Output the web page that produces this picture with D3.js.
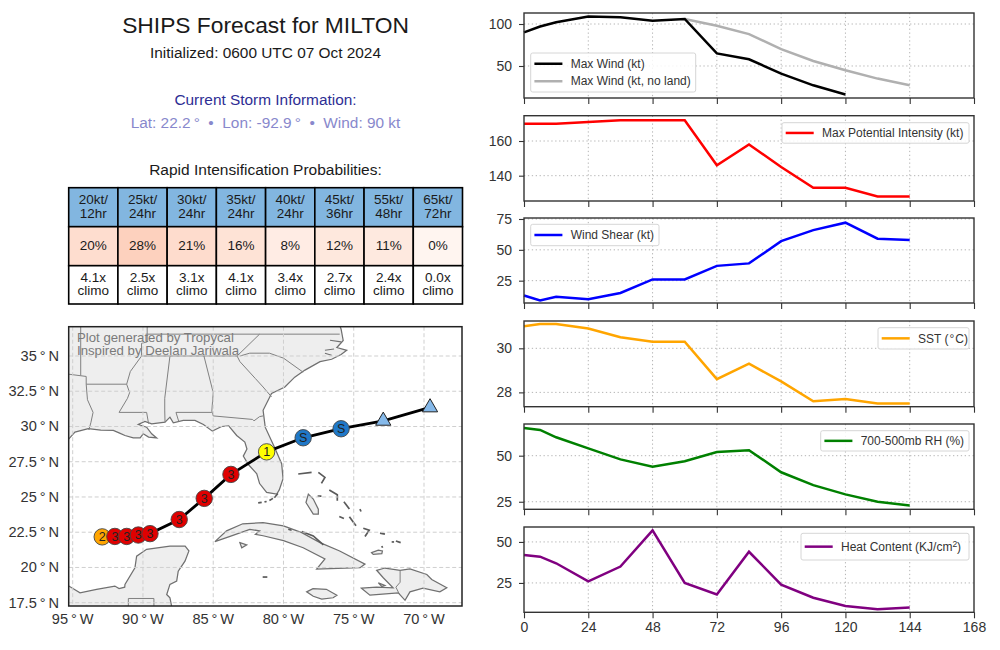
<!DOCTYPE html>
<html><head><meta charset="utf-8">
<script src="https://cdn.jsdelivr.net/npm/d3@7"></script>
<style>
html,body{margin:0;padding:0;background:#fff}
svg{display:block}
text{font-family:"Liberation Sans",Arimo,sans-serif}
</style></head><body>
<svg id="c" width="1000" height="650"></svg>
<script>
// ---------- data ----------
const hours = [0,6,12,24,36,48,60,72,84,96,108,120,132,144];
const hourTicks = [0,24,48,72,96,120,144,168];
const maxWind = [90,97,102,109,108,104,106,65,58,41,27,16,null,null];
const maxWindNoLand = [null,null,null,null,null,null,106,98,88,70,56,45,35,27];
const mpi = [170,170,170,171,172,172,172,146,158,145,133,133,128,128];
const shear = [13,9,12,10,15,26,26,37,39,57,66,72,59,58];
const sst = [31,31.1,31.1,30.9,30.5,30.3,30.3,28.6,29.3,28.5,27.6,27.7,27.5,27.5];
const rh = [65,64,60,54,48,44,47,52,53,41,34,29,25,23];
const ohc = [42,41,37,26,35,57,25,18,44,24,16,11,9,10];

const riHeaders = [["20kt/","12hr"],["25kt/","24hr"],["30kt/","24hr"],["35kt/","24hr"],["40kt/","24hr"],["45kt/","36hr"],["55kt/","48hr"],["65kt/","72hr"]];
const riProb = [20,28,21,16,8,12,11,0];
const riClimo = ["4.1x","2.5x","3.1x","4.1x","3.4x","2.7x","2.4x","0.0x"];

const trackLon = [-92.9,-92.0,-91.16,-90.33,-89.5,-87.42,-85.64,-83.74,-81.2,-78.6,-75.9,-72.9,-69.57];
const trackLat = [22.17,22.2,22.2,22.3,22.4,23.4,24.9,26.6,28.2,29.2,29.84,30.4,31.35];
const trackCat = ["2","3","3","3","3","3","3","3","1","S","S","T","T"];

const lonTicks = [-95,-90,-85,-80,-75,-70];
const latTicks = [17.5,20,22.5,25,27.5,30,32.5,35];
const lonLabels = ["95\u2009°\u2009W","90\u2009°\u2009W","85\u2009°\u2009W","80\u2009°\u2009W","75\u2009°\u2009W","70\u2009°\u2009W"];
const latLabels = ["17.5\u2009°\u2009N","20\u2009°\u2009N","22.5\u2009°\u2009N","25\u2009°\u2009N","27.5\u2009°\u2009N","30\u2009°\u2009N","32.5\u2009°\u2009N","35\u2009°\u2009N"];

// land outlines [lon, lat]
const usa = [[-97,28],[-95.27,29.12],[-94.84,29.6],[-93.89,29.84],[-93,29.75],[-92.11,29.72],[-91.7,29.55],[-91.28,29.36],[-90.69,29.19],[-90.2,29.2],[-89.98,29.48],[-89.6,29.25],[-89.03,29.19],[-89.38,29.48],[-89.74,29.95],[-90.33,30.14],[-89.86,30.36],[-89.38,30.19],[-88.43,30.31],[-88.08,30.66],[-87.84,30.26],[-87.13,30.43],[-86.3,30.43],[-85.7,30.14],[-85.06,29.67],[-84.4,30],[-83.9,30.05],[-83.33,29.36],[-82.75,28.9],[-82.6,28.4],[-82.86,27.9],[-82.5,27.3],[-81.9,26.65],[-81.7,25.95],[-81.2,25.32],[-80.48,25.2],[-80.3,25.5],[-80.03,26.3],[-80.13,27.36],[-80.6,28.43],[-81.3,29.95],[-81.45,31.15],[-80.85,32.35],[-79.9,32.8],[-79.2,33.5],[-78.47,34],[-77.4,34.6],[-76.57,34.77],[-75.9,35.1],[-75.5,35.4],[-76.2,35.6],[-75.75,36.1],[-75.9,36.9],[-76.1,37.5],[-97,37.5]];
const yucatan = [[-95.6,18.6],[-95.27,18.68],[-94.48,18.2],[-93.3,18.44],[-92,18.68],[-91.7,18.5],[-91.3,18.6],[-91.28,18.8],[-90.57,19.98],[-90.45,20.8],[-89.74,21.29],[-88.08,21.52],[-87,21.52],[-86.73,21.17],[-87.01,20.45],[-87.49,19.74],[-87.6,19.03],[-88.08,18.8],[-88.31,18.08],[-88.08,17.84],[-87.96,17.25],[-88,16.8],[-95.6,16.8]];
const cuba = [[-84.88,21.83],[-84.05,22.6],[-82.9,23.1],[-81.45,23.18],[-80,22.95],[-78.7,22.47],[-77.4,21.76],[-76,21.17],[-74.2,20.24],[-74.55,19.98],[-77.64,19.88],[-77.05,20.6],[-78.6,21.4],[-80,21.9],[-81.45,22.25],[-82,22.35],[-81.7,22.6],[-82.4,22.7],[-83.8,22.2]];
const jamaica = [[-78.35,18.27],[-77.9,18.5],[-76.95,18.45],[-76.2,18.03],[-76.47,17.85],[-77.28,17.75],[-77.88,17.96]];
const hispaniola = [[-74.45,18.53],[-73.37,18.6],[-72.2,18.55],[-72.9,19.27],[-73.37,19.8],[-72.78,19.96],[-71.7,19.8],[-71,19.9],[-69.8,19.5],[-69.45,19.15],[-68.38,18.56],[-68.87,18.27],[-70.07,18.53],[-71,18.27],[-71.35,17.67],[-71.83,18.2],[-73.85,18.03]];
const andros = [[-78.23,25.2],[-77.88,24.85],[-77.52,24.14],[-77.52,23.78],[-77.88,23.78],[-78.4,24.61]];
const inagua = [[-73.73,21.05],[-73.25,21.22],[-72.96,21.17],[-73,20.98],[-73.61,20.93]];
const isleYouth = [[-83.1,21.76],[-82.62,21.6],[-82.97,21.4]];
const gonave = [[-73.25,18.91],[-72.78,18.73],[-73,18.65]];
const landShapes = [usa,yucatan,cuba,jamaica,hispaniola,andros,inagua,isleYouth,gonave];
const islandStrips = [
 [[-78.95,26.63],[-78,26.75]],[[-77.52,26.75],[-77.05,26.39],[-77.3,25.96]],
 [[-76.74,25.49],[-76.17,25.16],[-76.17,24.73]],[[-75.7,24.66],[-75.31,24.14]],
 [[-75.31,23.59],[-74.84,22.95]],[[-76.03,23.61],[-75.7,23.47]],[[-77.57,25.06],[-77.3,25.06]],
 [[-74.56,24.14],[-74.48,23.97]],[[-74.32,22.78],[-73.9,22.64],[-74.2,22.19]],[[-73.13,22.43],[-72.78,22.36]],
 [[-72.3,21.81],[-72.13,21.81]],[[-72,21.88],[-71.66,21.76]],[[-73,21.52],[-72.95,21.4]],[[-81.48,19.32],[-81.15,19.32]],
 [[-78.7,22.55],[-77.88,22.24],[-77.16,21.6]],[[-79.66,22.71],[-79.42,22.64]],
 [[-81.8,24.58],[-81.55,24.62]],[[-81.35,24.65],[-81.2,24.68]],[[-81,24.75],[-80.75,24.9]],[[-80.65,24.95],[-80.4,25.25]]
];
const sounds = [[[-76.69,36.12],[-75.9,36]],[[-77.05,35.41],[-76.4,35.5]],[[-77.05,35.2],[-76.57,35.06]]];
const borders = [
 [[-94.43,37.5],[-94.43,33.6],[-95.6,33.75]],[[-94.43,33.6],[-94.04,33.55],[-94.04,33],[-93.95,31.9],[-93.55,31],[-93.7,30.3],[-93.85,29.75]],
 [[-94.04,33],[-91.16,33]],[[-89.7,37.2],[-89.7,36],[-90.1,35.9],[-90.1,35],[-90.9,33.9],[-91.16,33],[-90.95,32.4],[-91.1,32],[-91.7,31],[-89.74,31],[-89.6,30.2]],
 [[-88.43,30.31],[-88.45,31.1],[-88.45,32],[-88.08,35]],[[-90.1,35],[-83.3,35]],[[-89.7,36.55],[-76,36.55]],
 [[-85.66,35],[-85,32.4],[-85.1,31.1],[-85,30.75],[-82.2,30.5],[-82.1,30.4],[-81.7,30.7],[-81.45,30.75]],
 [[-87.65,31],[-85.1,31]],[[-87.65,31],[-87.45,30.35]],
 [[-83.3,35],[-83.1,34.6],[-82,33.4],[-81.45,32.8],[-80.85,32.1]],
 [[-83.3,35],[-81.7,36.55]],[[-83.1,35],[-82.4,35.2],[-81,35.2],[-80,34.85],[-78.6,33.85]],
 [[-91.04,16.9],[-91.04,17.8],[-89.22,17.8],[-89.22,16.9]],[[-91.04,17.25],[-92,17.2]],
 [[-71.7,19.8],[-71.7,18.95],[-72,18.6],[-71.75,18.1]]
];

// legend labels and panel specs
const panels = [
 {series:[{v:maxWind,c:"#000",n:"Max Wind (kt)"},{v:maxWindNoLand,c:"#b0b0b0",n:"Max Wind (kt, no land)"}],ylim:[11.9,113.1],ticks:[50,100],top:13,bottom:98,leg:[530.7,165,53,39],zorder:[1,0]},
 {series:[{v:mpi,c:"#ff0000",n:"Max Potential Intensity (kt)"}],ylim:[125.4,174.6],ticks:[140,160],top:115.7,bottom:201,leg:[782,187,122.7,20.5]},
 {series:[{v:shear,c:"#0000ff",n:"Wind Shear (kt)"}],ylim:[6.9,75.8],ticks:[25,50,75],top:218,bottom:303,leg:[530.7,128.3,224.3,21.4]},
 {series:[{v:sst,c:"#ffa500",n:"SST (\u200a°\u200aC)"}],ylim:[27.35,31.24],ticks:[28,30],top:321,bottom:406.7,leg:[878,91,327.7,21.3]},
 {series:[{v:rh,c:"#008000",n:"700-500mb RH (%)"}],ylim:[20.9,67.2],ticks:[25,50],top:424,bottom:509.3,leg:[820.7,148.3,430.7,20.3]},
 {series:[{v:ohc,c:"#800080",n:"Heat Content (KJ/cm",sup:"2",close:")"}],ylim:[7.1,59.1],ticks:[25,50],top:527,bottom:612.3,leg:[801,168,533.3,26.7]}
];

// ---------- layout ----------
const svg = d3.select("#c");
const CX = 265.5;
const ink = "#1a1a1a";
function T(x,y,s,size,color,anchor){
  return svg.append("text").attr("x",x).attr("y",y).attr("font-size",size).attr("fill",color||ink)
    .attr("text-anchor",anchor||"middle").text(s);
}
T(CX,32.5,"SHIPS Forecast for MILTON",22.8);
T(CX,58,"Initialized: 0600 UTC 07 Oct 2024",15.4);
T(CX,104.5,"Current Storm Information:",15.4,"#2e2e94");
T(CX,127.5,"Lat: 22.2\u2009°  \u2022  Lon: -92.9\u2009°  \u2022  Wind: 90 kt",15.4,"#8888cc").style("white-space","pre");
T(CX,175,"Rapid Intensification Probabilities:",15.5);

// table
const tx = d3.scaleBand().domain(d3.range(8)).range([68.7,462.5]);
const rowY = [187.7,226.7,265.7,304];
const reds = d3.scaleSequential(d3.interpolateReds).domain([0,160]);
const tg = svg.append("g");
riProb.forEach((p,i)=>{
  const x=tx(i),w=tx.bandwidth(),cx=x+w/2;
  const fills=["#82b6e0",reds(p),"#fff"];
  fills.forEach((f,r)=>tg.append("rect").attr("x",x).attr("y",rowY[r]).attr("width",w).attr("height",rowY[r+1]-rowY[r]).attr("fill",f).attr("stroke","#000").attr("stroke-width",1.6));
  [[riHeaders[i][0],204],[riHeaders[i][1],217.5],[p+"%",249.5],[riClimo[i],281.5],["climo",295]].forEach(d=>{
    tg.append("text").attr("x",cx).attr("y",d[1]).attr("text-anchor","middle").attr("font-size",13.5).attr("fill",ink).text(d[0]);
  });
});

// map
const mL=68.7,mR=462,mT=326.7,mB=606;
const lonS = d3.scaleLinear().domain([-95,-70]).range([72.7,424]);
const latS = d3.scaleLinear().domain([17.5,35]).range([602.7,356]);
const geo = d3.line().x(d=>lonS(d[0])).y(d=>latS(d[1]));
svg.append("clipPath").attr("id","mapclip").append("rect").attr("x",mL).attr("y",mT).attr("width",mR-mL).attr("height",mB-mT);
const mg = svg.append("g").attr("clip-path","url(#mapclip)");
mg.selectAll(".land").data(landShapes).join("path").attr("d",d=>geo(d)+"Z").attr("fill","#eeeeee").attr("stroke","#707070").attr("stroke-width",1.25);
mg.selectAll(".border").data(borders).join("path").attr("d",geo).attr("fill","none").attr("stroke","#808080").attr("stroke-width",1);
mg.selectAll(".sound").data(sounds).join("path").attr("d",geo).attr("fill","none").attr("stroke","#707070").attr("stroke-width",1.1);
mg.selectAll(".strip").data(islandStrips).join("path").attr("d",geo).attr("fill","none").attr("stroke","#5a5a5a").attr("stroke-width",1.7);
mg.selectAll(".glon").data(lonTicks).join("line").attr("x1",lonS).attr("x2",lonS).attr("y1",mT).attr("y2",mB).attr("stroke","#cfcfcf").attr("stroke-width",1).attr("stroke-dasharray","4 2.5");
mg.selectAll(".glat").data(latTicks).join("line").attr("y1",latS).attr("y2",latS).attr("x1",mL).attr("x2",mR).attr("stroke","#cfcfcf").attr("stroke-width",1).attr("stroke-dasharray","4 2.5");
const trk = trackLon.map((d,i)=>[d,trackLat[i]]);
mg.append("path").attr("d",geo(trk)).attr("fill","none").attr("stroke","#000").attr("stroke-width",2.8);
const catFill = {"1":"#ffff00","2":"#ffa500","3":"#e00000","S":"#1f78c8","T":"#85b9ea"};
trk.forEach((d,i)=>{
  const c=trackCat[i],x=lonS(d[0]),y=latS(d[1]);
  if(c==="T"){
    mg.append("path").attr("d",d3.symbol(d3.symbolTriangle,100)()).attr("transform",`translate(${x},${y})`).attr("fill",catFill.T).attr("stroke","#222").attr("stroke-width",1);
  }else{
    mg.append("circle").attr("cx",x).attr("cy",y).attr("r",8.2).attr("fill",catFill[c]).attr("stroke","#444").attr("stroke-width",.9);
    mg.append("text").attr("x",x).attr("y",y+4.4).attr("text-anchor","middle").attr("font-size",12.5).attr("fill","#222").text(c);
  }
});
["Plot generated by Tropycal","Inspired by Deelan Jariwala"].forEach((s,i)=>{
  svg.append("text").attr("x",77).attr("y",341.7+i*13.4).attr("font-size",13.2).attr("fill","#7a7a7a").text(s);
});
svg.append("rect").attr("x",mL).attr("y",mT).attr("width",mR-mL).attr("height",mB-mT).attr("fill","none").attr("stroke","#222").attr("stroke-width",1.5);
lonTicks.forEach((d,i)=>T(lonS(d),624,lonLabels[i],14.6,"#333"));
latTicks.forEach((d,i)=>T(59,latS(d)+5,latLabels[i],14.6,"#333","end"));

// time-series panels
const x = d3.scaleLinear().domain([0,168]).range([524,974]);
panels.forEach((p,pi)=>{
  const y=d3.scaleLinear().domain(p.ylim).range([p.bottom,p.top]);
  const g=svg.append("g");
  g.selectAll(".gx").data(hourTicks.slice(1,-1)).join("line").attr("x1",x).attr("x2",x).attr("y1",p.top).attr("y2",p.bottom).attr("stroke","#b4b4b4").attr("stroke-width",1).attr("stroke-dasharray","1.3 2.6");
  g.selectAll(".gy").data(p.ticks).join("line").attr("y1",y).attr("y2",y).attr("x1",524).attr("x2",974).attr("stroke","#b4b4b4").attr("stroke-width",1).attr("stroke-dasharray","1.3 2.6");
  const order=p.zorder||p.series.map((_,i)=>i);
  order.forEach(i=>{
    const s=p.series[i];
    const ln=d3.line().defined(d=>d!=null).x((d,j)=>x(hours[j])).y(d=>y(d));
    g.append("path").attr("d",ln(s.v)).attr("fill","none").attr("stroke",s.c).attr("stroke-width",2.5);
  });
  // legend
  const [bx,bw,by,bh]=p.leg;
  g.append("rect").attr("x",bx).attr("y",by).attr("width",bw).attr("height",bh).attr("rx",2).attr("fill","#fff").attr("fill-opacity",.85).attr("stroke","#d6d6d6").attr("stroke-width",1);
  const rowH=bh/p.series.length;
  p.series.forEach((s,i)=>{
    const cy=by+rowH*(i+.5)+(i===0&&p.series.length>1?1:0)-(i===1?1:0);
    const hx=bx+3.7;
    g.append("line").attr("x1",hx).attr("x2",hx+28).attr("y1",cy).attr("y2",cy).attr("stroke",s.c).attr("stroke-width",2.5);
    const t=g.append("text").attr("x",bx+40).attr("y",cy+4.2).attr("font-size",12).attr("fill","#333");
    t.append("tspan").text(s.n);
    if(s.sup){t.append("tspan").attr("dy",-4).attr("font-size",8.5).text(s.sup);t.append("tspan").attr("dy",4).text(s.close);}
  });
  // frame and axes
  const last=pi===panels.length-1;
  const ax=d3.axisBottom(x).tickValues(hourTicks).tickSizeOuter(0).tickSize(6).tickPadding(4).tickFormat(last?d3.format("d"):"");
  const ag=g.append("g").attr("transform",`translate(0,${p.bottom})`).call(ax);
  const ay=d3.axisLeft(y).tickValues(p.ticks).tickSizeOuter(0).tickSize(5).tickPadding(7).tickFormat(d3.format("d"));
  const yg=g.append("g").attr("transform","translate(524,0)").call(ay);
  [ag,yg].forEach(a=>{
    a.select(".domain").remove();
    a.selectAll("line").attr("stroke","#333").attr("stroke-width",1.1);
    a.selectAll("text").attr("font-size",14).attr("fill","#333").style("font-family",'"Liberation Sans",sans-serif');
  });
  g.append("rect").attr("x",524).attr("y",p.top).attr("width",450).attr("height",p.bottom-p.top).attr("fill","none").attr("stroke","#333").attr("stroke-width",1.4);
});
</script>
</body></html>
